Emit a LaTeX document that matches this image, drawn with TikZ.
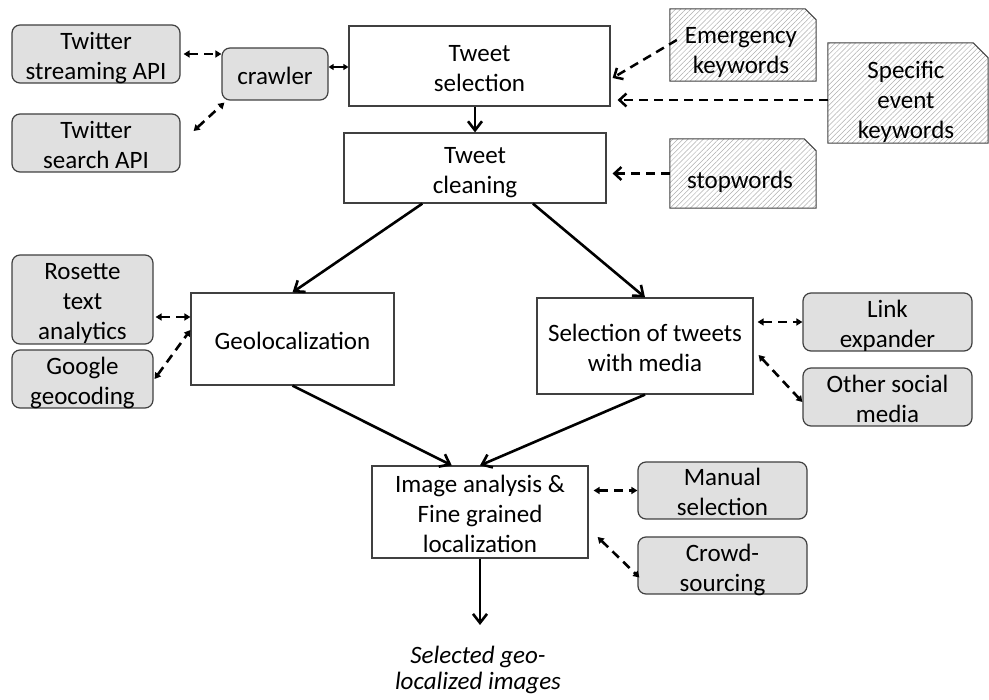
\documentclass[tikz,border=0pt]{standalone}
\usepackage{fontspec}
\setmainfont{Carlito}
\usetikzlibrary{arrows.meta,patterns.meta,backgrounds,calc}
\definecolor{boxgray}{RGB}{224,224,224}
\definecolor{edgegray}{RGB}{64,64,64}
\definecolor{hatchgray}{RGB}{175,175,175}
\newcommand{\mytopstrut}{\rule{0pt}{27pt}}
\newcommand{\mybotstrut}{\rule[-6pt]{0pt}{6pt}}
\begin{document}
\begin{tikzpicture}[x=1pt,y=-1pt,
  every node/.style={font=\fontsize{25pt}{30pt}\selectfont, align=center, inner sep=1pt},
  proc/.style={rectangle, draw=edgegray, line width=1.2pt, fill=white, inner ysep=-5pt},
  ext/.style={rectangle, rounded corners=8pt, draw=edgegray, line width=1.2pt, fill=boxgray, inner ysep=-5pt},
  docbox/.style={rectangle, inner sep=0pt},
  docshape/.style={draw=edgegray, line width=1pt, pattern={Lines[angle=45,distance=3.6pt,line width=0.5pt]}, pattern color=hatchgray},
  flow/.style={line width=2.6pt, -{Straight Barb[length=9pt,width=14pt]}},
  feed/.style={line width=2.5pt, dash pattern=on 9pt off 6pt, -{Straight Barb[length=7pt,width=13pt]}},
  biarrow/.style={line width=2.6pt, dash pattern=on 9pt off 6pt, {Triangle[length=6pt,width=7pt]}-{Triangle[length=6pt,width=7pt]}},
  shortbi/.style={line width=2pt, {Triangle[length=5pt,width=6pt]}-{Triangle[length=5pt,width=6pt]}}
]
\useasboundingbox (0,0) rectangle (989,700);

% main process boxes
\node[proc, minimum width=261pt, minimum height=80pt] (tsel) at (479.5,66) {\mytopstrut Tweet\\selection\mybotstrut};
\node[proc, minimum width=262pt, minimum height=70pt] (tclean) at (475,168) {\mytopstrut Tweet\\cleaning\mybotstrut};
\node[proc, minimum width=203pt, minimum height=92pt] (geo) at (292.5,339) {\mytopstrut Geolocalization\mybotstrut};
\node[proc, minimum width=216pt, minimum height=96pt] (selm) at (645,346) {\mytopstrut Selection of tweets\\with media\mybotstrut};
\node[proc, minimum width=216pt, minimum height=92pt] (img) at (480,512) {\mytopstrut Image analysis \&\\Fine grained\\localization\mybotstrut};
\node[font=\fontsize{25pt}{26pt}\selectfont\itshape] (out) at (478,670) {Selected geo-\\localized images};
\coordinate (outarr) at (480,625);

% external (rounded) boxes
\node[ext, minimum width=168pt, minimum height=58pt] (stream) at (96,54) {\mytopstrut Twitter\\streaming API\mybotstrut};
\node[ext, minimum width=168pt, minimum height=58pt] (search) at (96,143) {\mytopstrut Twitter\\search API\mybotstrut};
\node[ext, minimum width=106pt, minimum height=52pt] (crawler) at (275,74) {\mytopstrut crawler\mybotstrut};
\node[ext, minimum width=141pt, minimum height=89pt] (rosette) at (82.5,299.5) {\mytopstrut Rosette\\text\\analytics\mybotstrut};
\node[ext, minimum width=141pt, minimum height=58pt] (google) at (82.5,379) {\mytopstrut Google\\geocoding\mybotstrut};
\node[ext, minimum width=169pt, minimum height=58pt] (linkexp) at (887.5,322) {\mytopstrut Link\\expander\mybotstrut};
\node[ext, minimum width=169pt, minimum height=58pt] (other) at (887.5,397) {\mytopstrut Other social\\media\mybotstrut};
\node[ext, minimum width=169pt, minimum height=57pt] (manual) at (722.5,490.5) {\mytopstrut Manual\\selection\mybotstrut};
\node[ext, minimum width=169pt, minimum height=57pt] (crowd) at (722.5,565.5) {\mytopstrut Crowd-\\sourcing\mybotstrut};

% document boxes
\node[docbox, minimum width=146pt, minimum height=72pt] (emerg) at (743,45) {};
\node[docbox, minimum width=160pt, minimum height=100pt] (specific) at (908,93) {};
\node[docbox, minimum width=146pt, minimum height=69pt] (stop) at (743,173.5) {};
\begin{pgfonlayer}{background}
\foreach \n/\f in {emerg/11,specific/15,stop/12}{
  \draw[docshape] (\n.north west) -- ([xshift=-\f pt]\n.north east) -- ([yshift=-\f pt]\n.north east)
    -- (\n.south east) -- (\n.south west) -- cycle;
}
\end{pgfonlayer}
\node (emergtxt) at (741,52) {Emergency\\keywords};
\node (specifictxt) at (906,102) {Specific\\event\\keywords};
\node (stoptxt) at (740,182) {stopwords};

% main flow
\draw[flow] (tsel.south -| tclean.north) -- (tclean.north);
\draw[flow] ($(tclean.south west)!0.30!(tclean.south east)$) -- (geo.north);
\draw[flow] ($(tclean.south west)!0.72!(tclean.south east)$) -- (selm.north);
\draw[flow] (geo.south) -- ($(img.north west)!0.37!(img.north east)$);
\draw[flow] (selm.south) -- (img.north);
\draw[flow] (img.south) -- (outarr);

% dashed links
\draw[biarrow, shorten <=3pt] (stream.east) -- (stream.east -| crawler.west);
\draw[biarrow] ([shift={(13pt,12pt)}]search.east) -- ([shift={(3pt,-2pt)}]crawler.south west);
\draw[shortbi] ([yshift=7pt]crawler.east) -- ([yshift=7pt]crawler.east -| tsel.west);
\coordinate (rosin) at ([yshift=22pt]geo.west);
\draw[biarrow, shorten <=2pt] (rosin -| rosette.east) -- (rosin);
\draw[biarrow] ([xshift=1pt]google.east) -- ([yshift=9pt]geo.west);
\coordinate (selout) at ([xshift=4pt]selm.east);
\draw[biarrow] (selout |- linkexp.west) -- (linkexp.west);
\draw[biarrow] ([shift={(5pt,-9pt)}]selm.east) -- ([yshift=-5pt]other.west);
\coordinate (imgout) at ([xshift=5pt]img.east);
\draw[biarrow] (imgout |- manual.west) -- (manual.west);
\draw[biarrow] ([shift={(9pt,-25pt)}]img.east) -- ([shift={(2pt,-12pt)}]crowd.west);

% keyword feeds
\coordinate (specout) at ([yshift=-7pt]specific.west);
\coordinate (tselin) at ([xshift=7pt]tsel.east);
\coordinate (tcleanin) at ([xshift=6pt]tclean.east);
\draw[feed] ([shift={(7pt,5pt)}]emerg.west) -- ([shift={(2pt,-12pt)}]tsel.east);
\draw[feed] (specout) -- (tselin |- specout);
\draw[feed] (stop.west) -- (tcleanin |- stop.west);
\end{tikzpicture}
\end{document}
